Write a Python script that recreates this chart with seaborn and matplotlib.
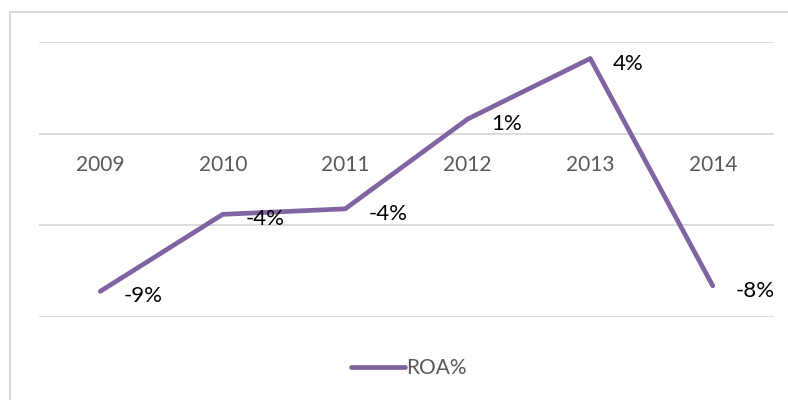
import pandas as pd
import numpy as np
import matplotlib
matplotlib.use("Agg")
import matplotlib.pyplot as plt
import matplotlib.patches as mpatches
import seaborn as sns

# 데이터
years = ['2009', '2010', '2011', '2012', '2013', '2014']
roa = [-8.6, -4.4, -4.1, 0.8, 4.1, -8.3]
roa_labels = ['-9%', '-4%', '-4%', '1%', '4%', '-8%']
grid_levels = [-10, -5, 0, 5]

df = pd.DataFrame({'year': years, 'ROA%': roa})

sns.set_theme(style="white")
plt.rcParams['font.family'] = ['Lato', 'DejaVu Sans']

purple = "#8064A2"
grey_text = "#595959"
grid_col = "#D9D9D9"

fig = plt.figure(figsize=(7.88, 4.0), dpi=100)
ax = fig.add_axes([39 / 788, 1 - 317 / 400, (774 - 39) / 788, (317 - 42) / 400])

sns.lineplot(data=df, x='year', y='ROA%', ax=ax, color=purple, linewidth=3.4,
             label='ROA%', sort=False)
line = ax.get_lines()[0]
line.set_solid_capstyle('round')
line.set_solid_joinstyle('round')

ax.set_xlim(-0.5, len(years) - 0.5)
ax.set_ylim(-10, 5)
ax.set_yticks(grid_levels)
ax.set_yticklabels([])
ax.tick_params(axis='y', length=0)
for g in grid_levels:
    ax.axhline(g, color=grid_col, linewidth=1.3, zorder=0)

# 카테고리 라벨은 0% 선 아래에
for s in ['top', 'right', 'left']:
    ax.spines[s].set_visible(False)
ax.spines['bottom'].set_position(('data', 0))
ax.spines['bottom'].set_visible(False)
ax.tick_params(axis='x', length=0, pad=15, labelsize=15, labelcolor=grey_text)
ax.set_xlabel('')
ax.set_ylabel('')

# 데이터 라벨
for i, (v, lab) in enumerate(zip(roa, roa_labels)):
    ax.annotate(lab, (i, v), xytext=(23, -5), textcoords='offset pixels',
                ha='left', va='center', fontsize=16, color='black')

# 범례
leg = ax.legend(loc='center', bbox_to_anchor=(409 / 788, 1 - 368 / 400), bbox_transform=fig.transFigure,
                frameon=False, fontsize=15, handlelength=2.6, handletextpad=0.05)
for t in leg.get_texts():
    t.set_color(grey_text)
leg.legend_handles[0].set_solid_capstyle('round')

# 차트 테두리
frame = mpatches.Rectangle((10 / 788, -0.1), 1.2, 1.1 - 12 / 400, transform=fig.transFigure,
                           fill=False, edgecolor=grid_col, linewidth=1.5)
fig.patches.append(frame)

plt.savefig("out.png", dpi=100)
plt.close()
